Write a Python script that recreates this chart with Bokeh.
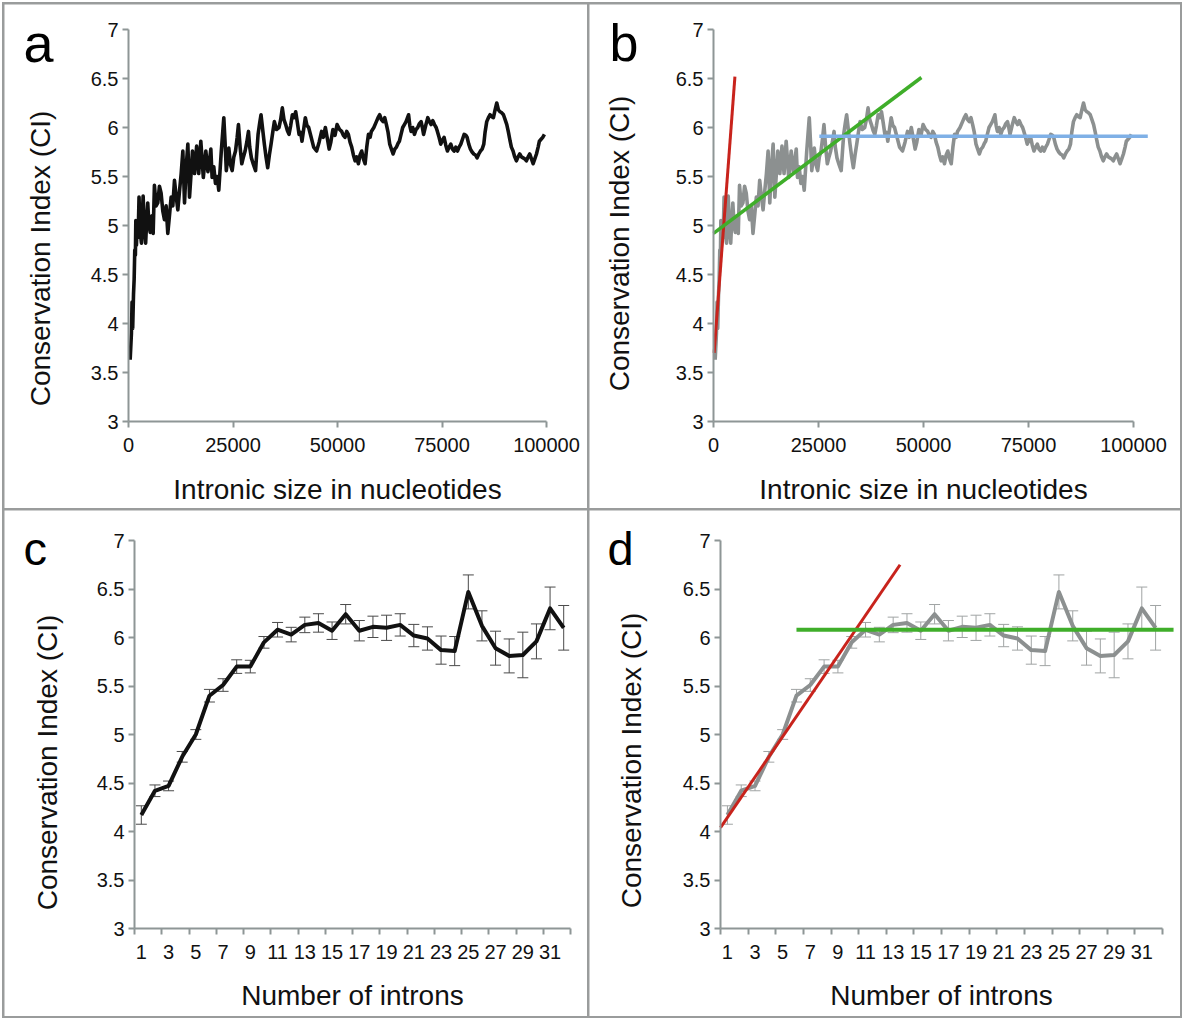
from bokeh.plotting import figure
from bokeh.layouts import row, column
from bokeh.models import (Range1d, FixedTicker, NumeralTickFormatter, LinearAxis,
                          ColumnDataSource, Whisker, TeeHead)
from bokeh.core.properties import value
from bokeh.embed import file_html
from bokeh.resources import INLINE

# ---------------- data ----------------
# Panels a/b: conservation index vs intronic size (nt)
size_nt = [400, 700, 850, 1000, 1200, 1350, 1500, 1650, 1750, 1900, 2100, 2300, 2520, 2750,
           3100, 3300, 3500, 3800, 4100, 4350, 4600, 4900, 5200, 5600, 5900, 6200, 6600, 7000,
           7400, 7800, 8200, 8600, 9000, 9400, 9800, 10200, 10600, 11000, 11400, 11800, 12200,
           12600, 13000, 13400, 13800, 14200, 14600, 15000, 15300, 15800, 16300, 16800, 17300,
           17900, 18500, 19000, 19300, 19700, 20000, 20400, 20800, 21200, 21600, 22200, 22800,
           23100, 23400, 24000, 24400, 24800, 25200, 25600, 26000, 26300, 26700, 27100, 27500,
           27900, 28300, 28700, 29000, 29400, 29900, 30400, 30700, 31000, 31400, 31700, 32100,
           32500, 32900, 33300, 33700, 34100, 34500, 34900, 35400, 36000, 36400, 36800, 37200,
           37600, 38000, 38400, 38800, 39200, 39600, 40000, 40400, 40800, 41200, 41500, 41900,
           42300, 42700, 43100, 43700, 44300, 45000, 45600, 46200, 46600, 47100, 47600, 48000,
           48400, 48900, 49400, 49900, 50500, 51000, 51400, 51800, 52200, 52600, 53000, 53400,
           53800, 54200, 54600, 55000, 55400, 55800, 56200, 56600, 57000, 57400, 57800, 58100,
           58700, 59300, 59700, 60100, 60500, 60900, 61300, 61700, 62100, 62500, 62900, 63300,
           63700, 64100, 64500, 64800, 65200, 65600, 66000, 66400, 67000, 67300, 67600, 68000,
           68400, 68800, 69200, 69600, 70000, 70300, 70600, 71100, 71600, 72000, 72400, 72800,
           73200, 73600, 73900, 74300, 74700, 75100, 75500, 75900, 76300, 76700, 77100, 77500,
           77900, 78300, 78700, 79100, 79500, 79900, 80300, 80700, 81000, 81400, 81800, 82200,
           82600, 83000, 83400, 83800, 84200, 84600, 85000, 85300, 85700, 86100, 86500, 86900,
           87300, 87700, 88100, 88500, 88900, 89300, 89700, 90100, 90500, 90900, 91300, 91600,
           92000, 92400, 92800, 93200, 93600, 94000, 94400, 94800, 95200, 95600, 96000, 96400,
           96800, 97200, 97600, 98000, 98300, 98700, 99100, 99500]
ci_by_size = [3.63, 3.90, 4.22, 3.95, 4.30, 4.45, 4.75, 4.70, 5.05, 4.80, 5.05, 4.88, 5.29, 4.95,
              4.82, 5.10, 5.30, 4.95, 4.82, 5.05, 5.23, 5.00, 4.93, 5.10, 4.92, 5.41, 5.20, 5.23,
              5.40, 5.33, 5.15, 5.06, 5.20, 4.92, 5.10, 5.29, 5.20, 5.46, 5.30, 5.16, 5.35,
              5.53, 5.76, 5.23, 5.60, 5.83, 5.29, 5.55, 5.76, 5.53, 5.81, 5.53, 5.86,
              5.49, 5.76, 5.55, 5.63, 5.78, 5.49, 5.60, 5.43, 5.50, 5.36, 5.76, 6.10,
              5.85, 5.56, 5.79, 5.62, 5.56, 5.70, 5.76, 5.90, 6.03, 5.80, 5.63, 5.70,
              5.76, 5.85, 5.96, 5.80, 5.69, 5.62, 5.56, 5.75, 5.93, 6.05, 6.13, 5.98,
              5.83, 5.70, 5.59, 5.72, 5.83, 5.95, 6.06, 5.98, 6.00, 6.08, 6.20, 6.08,
              6.03, 5.97, 5.93, 6.02, 6.13, 6.10, 6.16, 6.05, 5.93, 5.95, 5.86, 5.98,
              6.10, 6.02, 6.00, 5.90, 5.80, 5.76, 5.85, 5.96, 5.90, 6.00, 5.88, 5.78,
              5.85, 5.98, 5.92, 6.03, 5.98, 5.96, 5.92, 5.90, 5.96, 5.93, 5.85, 5.80,
              5.72, 5.66, 5.70, 5.63, 5.72, 5.76, 5.68, 5.63, 5.80, 5.93, 5.90, 5.96,
              6.00, 6.06, 6.10, 6.13, 6.08, 6.06, 6.10, 6.03, 5.95, 5.83, 5.78, 5.73,
              5.78, 5.80, 5.84, 5.86, 5.93, 6.00, 6.03, 6.06, 6.13, 6.02, 5.96, 6.00,
              5.93, 5.98, 6.00, 6.04, 6.06, 6.00, 5.93, 6.02, 6.10, 6.06, 6.03, 6.07,
              6.03, 6.00, 5.96, 5.90, 5.83, 5.87, 5.90, 5.82, 5.76, 5.80, 5.83, 5.78,
              5.76, 5.80, 5.76, 5.80, 5.83, 5.88, 5.93, 5.92, 5.90, 5.83, 5.78, 5.75,
              5.73, 5.72, 5.69, 5.73, 5.76, 5.78, 5.83, 5.95, 6.06, 6.10, 6.13, 6.11,
              6.10, 6.18, 6.25, 6.18, 6.16, 6.15, 6.13, 6.08, 6.03, 5.95, 5.86, 5.80,
              5.76, 5.70, 5.66, 5.70, 5.73, 5.70, 5.69, 5.68, 5.66, 5.70, 5.73, 5.68,
              5.63, 5.68, 5.73, 5.80, 5.86, 5.88, 5.90, 5.93]

# Panel b fitted trend lines (x in nt, y in CI)
fit_fast_x = [150, 5100]
fit_fast_y = [3.70, 6.52]
fit_mid_x = [0, 49500]
fit_mid_y = [4.92, 6.51]
fit_plateau_x = [25200, 103400]
fit_plateau_y = [5.91, 5.91]

# Panels c/d: conservation index vs number of introns
introns = list(range(1, 33))
ci_by_introns = [4.17, 4.42, 4.47, 4.77, 5.00, 5.40, 5.51, 5.70, 5.70, 5.95, 6.08, 6.03,
                 6.13, 6.15, 6.07, 6.24, 6.07, 6.11, 6.10, 6.13, 6.02, 5.99, 5.87, 5.86,
                 6.47, 6.12, 5.89, 5.81, 5.82, 5.96, 6.30, 6.10]
ci_err = [0.095, 0.06, 0.05, 0.055, 0.05, 0.065, 0.065, 0.07, 0.065, 0.06, 0.075, 0.075,
          0.08, 0.095, 0.09, 0.10, 0.105, 0.11, 0.13, 0.115, 0.115, 0.12, 0.145, 0.15,
          0.175, 0.155, 0.175, 0.175, 0.235, 0.18, 0.22, 0.23]

# Panel d fitted trend lines
fit_rise_x = [0.5, 13.5]
fit_rise_y = [4.04, 6.75]
fit_flat_x = [6.0, 33.3]
fit_flat_y = [6.08, 6.08]

# tick values / labels
ci_ticks = [3, 3.5, 4, 4.5, 5, 5.5, 6, 6.5, 7]
size_ticks = [0, 25000, 50000, 75000, 100000]
intron_tick_labels = list(range(1, 32, 2))
panel_letters = ["a", "b", "c", "d"]
y_title = "Conservation Index (CI)"

# ---------------- styling ----------------
FONT = "Liberation Sans"
AXIS_GRAY = "#8e9696"
TEXT = "#111111"
BORDER_GRAY = "#9a9c9c"


class Geo:
    """Pixel geometry of one panel: figure size and where the axes sit inside it."""
    def __init__(self, w, h, ax_l, ax_r, ax_t, ax_b, x0, x1, y0, y1):
        self.w, self.h = w, h
        self.sx = (x1 - x0) / (ax_r - ax_l)
        self.sy = (y1 - y0) / (ax_b - ax_t)
        self.xr = Range1d(x0 - ax_l * self.sx, x1 + (w - ax_r) * self.sx)
        self.yr = Range1d(y0 - (h - ax_b) * self.sy, y1 + ax_t * self.sy)

    def data_x(self, px):
        return self.xr.start + px * self.sx

    def data_y(self, py):
        return self.yr.end - py * self.sy


def base_fig(g, x_fixed, title_standoff, title_shift_px):
    p = figure(width=g.w, height=g.h, x_range=g.xr, y_range=g.yr,
               output_backend="svg", toolbar_location=None, tools="",
               min_border_left=0, min_border_right=0,
               min_border_top=0, min_border_bottom=0)
    p.xgrid.visible = False
    p.ygrid.visible = False
    p.outline_line_color = None
    p.background_fill_color = "white"
    p.border_fill_color = "white"
    for ax in (p.xaxis[0], p.yaxis[0]):
        ax.axis_line_color = AXIS_GRAY
        ax.axis_line_width = 2
        ax.major_tick_line_color = AXIS_GRAY
        ax.major_tick_line_width = 2
        ax.minor_tick_line_color = None
        ax.major_tick_in = 0
        ax.major_tick_out = 6
        ax.major_label_text_font = FONT
        ax.major_label_text_font_size = "20px"
        ax.major_label_text_color = TEXT
        ax.axis_label_text_font = FONT
        ax.axis_label_text_font_size = "28px"
        ax.axis_label_text_font_style = "normal"
        ax.axis_label_text_color = TEXT
    yax = p.yaxis[0]
    yax.ticker = FixedTicker(ticks=ci_ticks)
    yax.formatter = NumeralTickFormatter(format="0.[0]")
    yax.major_label_standoff = 4
    yax.bounds = (ci_ticks[0], ci_ticks[-1])
    yax.fixed_location = x_fixed
    p.xaxis[0].fixed_location = ci_ticks[0]
    # y-axis title carried by a tick-less axis whose span is shifted down a little,
    # as in the original layout where the title sits below the axis centre
    shift = title_shift_px * g.sy
    t_ax = LinearAxis(ticker=FixedTicker(ticks=[]), fixed_location=x_fixed,
                      bounds=(ci_ticks[0] - shift, ci_ticks[-1] - shift),
                      axis_line_color=None, major_tick_line_color=None,
                      minor_tick_line_color=None, major_tick_out=0, major_tick_in=0,
                      major_label_text_font_size="0px",
                      axis_label=y_title, axis_label_standoff=title_standoff,
                      axis_label_text_font=FONT, axis_label_text_font_size="28px",
                      axis_label_text_font_style="normal", axis_label_text_color=TEXT)
    p.add_layout(t_ax, "left")
    return p


def size_axis(p):
    ax = p.xaxis[0]
    ax.ticker = FixedTicker(ticks=size_ticks)
    ax.formatter = NumeralTickFormatter(format="0")
    ax.bounds = (size_ticks[0], size_ticks[-1])
    ax.axis_label = "Intronic size in nucleotides"
    ax.major_label_standoff = 10
    ax.axis_label_standoff = 19


def intron_axis(p):
    ax = p.xaxis[0]
    bounds = [t - 0.5 for t in intron_tick_labels] + [introns[-1] + 0.5]
    ax.ticker = FixedTicker(ticks=intron_tick_labels, minor_ticks=bounds)
    ax.formatter = NumeralTickFormatter(format="0")
    ax.bounds = (introns[0] - 0.5, introns[-1] + 0.5)
    ax.major_tick_out = 0
    ax.major_tick_line_color = None
    ax.minor_tick_line_color = AXIS_GRAY
    ax.minor_tick_line_width = 2
    ax.minor_tick_in = 0
    ax.minor_tick_out = 6
    ax.major_label_standoff = 10
    ax.axis_label = "Number of introns"
    ax.axis_label_standoff = 18


def letter(p, g, txt, px, baseline_py, size_px):
    # text is centred vertically; em-box centre sits ~0.35 em above the baseline
    p.text(x=[g.data_x(px)], y=[g.data_y(baseline_py - 0.3465 * size_px)], text=[txt],
           text_font=value(FONT), text_font_size=value(f"{size_px}px"), text_color="#000000",
           text_baseline="middle", text_align="left")


# ---- panel a ----
ga = Geo(583, 504, 124, 542, 25, 417, size_ticks[0], size_ticks[-1], ci_ticks[0], ci_ticks[-1])
pa = base_fig(ga, size_ticks[0], 73, 33)
size_axis(pa)
pa.line(size_nt, ci_by_size, line_color="#111111", line_width=3.6, line_join="round")
letter(pa, ga, panel_letters[0], 19, 57, 54)

# ---- panel b ----
gb = Geo(591, 504, 124, 544, 25, 417, size_ticks[0], size_ticks[-1], ci_ticks[0], ci_ticks[-1])
pb = base_fig(gb, size_ticks[0], 79, 18)
size_axis(pb)
pb.line(size_nt, ci_by_size, line_color="#8c9090", line_width=3.6, line_join="round")
pb.line(fit_fast_x, fit_fast_y, line_color="#c8231c", line_width=3)
pb.line(fit_mid_x, fit_mid_y, line_color="#3fae2a", line_width=3.5)
pb.line(fit_plateau_x, fit_plateau_y, line_color="#7fb0e6", line_width=3.5)
letter(pb, gb, panel_letters[1], 20, 57, 52)

# ---- panel c ----
src_c = ColumnDataSource(dict(x=introns, y=ci_by_introns,
                              upper=[m + e for m, e in zip(ci_by_introns, ci_err)],
                              lower=[m - e for m, e in zip(ci_by_introns, ci_err)]))
gc = Geo(583, 506, 130, 566, 30, 418, introns[0] - 0.5, introns[-1] + 0.5, ci_ticks[0], ci_ticks[-1])
pc = base_fig(gc, introns[0] - 0.5, 72, 28)
intron_axis(pc)
pc.add_layout(Whisker(source=src_c, base="x", upper="upper", lower="lower",
                      line_color="#4a4a4a", line_width=1,
                      upper_head=TeeHead(size=11, line_color="#4a4a4a", line_width=1),
                      lower_head=TeeHead(size=11, line_color="#4a4a4a", line_width=1)))
pc.line("x", "y", source=src_c, line_color="#111111", line_width=4, line_join="round")
letter(pc, gc, panel_letters[2], 19, 54, 47)

# ---- panel d ----
src_d = ColumnDataSource(dict(x=introns, y=ci_by_introns,
                              upper=[m + e for m, e in zip(ci_by_introns, ci_err)],
                              lower=[m - e for m, e in zip(ci_by_introns, ci_err)]))
gd = Geo(591, 506, 131, 573, 30, 418, introns[0] - 0.5, introns[-1] + 0.5, ci_ticks[0], ci_ticks[-1])
pd_ = base_fig(gd, introns[0] - 0.5, 74, 26)
intron_axis(pd_)
pd_.add_layout(Whisker(source=src_d, base="x", upper="upper", lower="lower",
                       line_color="#a0a4a4", line_width=1,
                       upper_head=TeeHead(size=11, line_color="#a0a4a4", line_width=1),
                       lower_head=TeeHead(size=11, line_color="#a0a4a4", line_width=1)))
pd_.line("x", "y", source=src_d, line_color="#8c9090", line_width=4, line_join="round")
pd_.line(fit_rise_x, fit_rise_y, line_color="#c8231c", line_width=3)
pd_.line(fit_flat_x, fit_flat_y, line_color="#3fae2a", line_width=4)
letter(pd_, gd, panel_letters[3], 18, 54, 47)

grid = column(row(pa, pb, spacing=2), row(pc, pd_, spacing=2), spacing=2,
              styles={"background-color": BORDER_GRAY, "padding": "2px"})
layout = column(grid, styles={"background-color": "white", "padding": "2px"})

open("out.html", "w").write(file_html(layout, INLINE))
